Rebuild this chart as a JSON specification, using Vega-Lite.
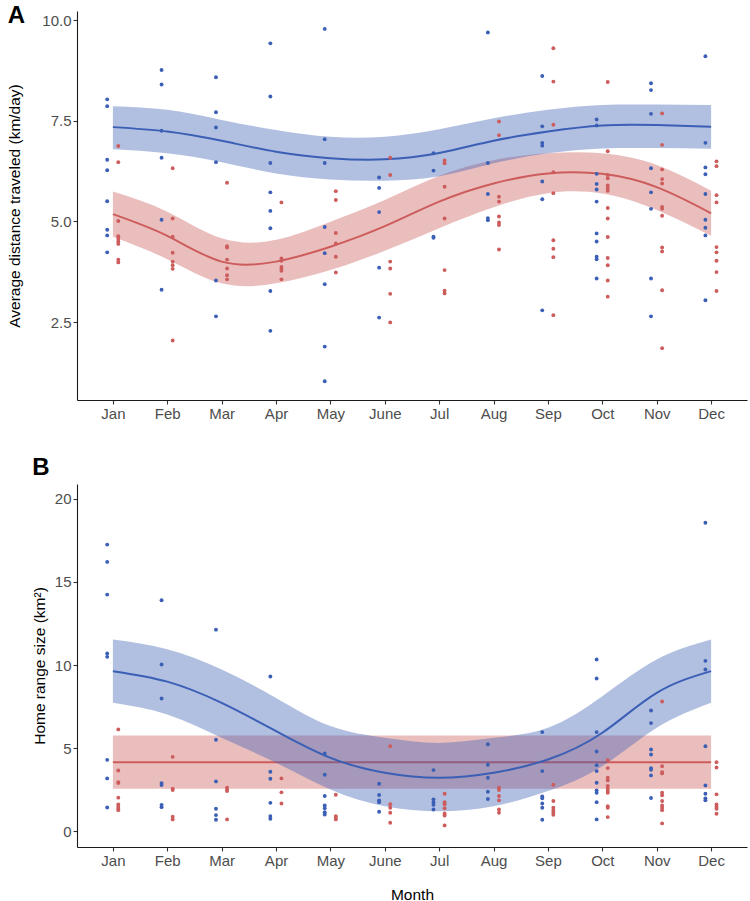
{
  "$schema": "https://vega.github.io/schema/vega-lite/v6.json",
  "background": "white",
  "padding": {"left": 7, "top": 4, "right": 2, "bottom": 0},
  "spacing": 35,
  "config": {
    "view": {"stroke": null},
    "font": "Liberation Sans",
    "axis": {
      "grid": false,
      "domainColor": "#1a1a1a",
      "domainWidth": 1.1,
      "tickColor": "#333333",
      "tickWidth": 1.1,
      "tickSize": 4,
      "labelPadding": 2,
      "labelColor": "#4D4D4D",
      "labelFontSize": 15,
      "labelFont": "Liberation Sans",
      "titleFont": "Liberation Sans",
      "titleFontSize": 15.5,
      "titleFontWeight": "normal",
      "titleColor": "#000000"
    }
  },
  "datasets": {
    "fitA": [
      {"month": 1, "sex": "Male", "fit": 7.34, "lo": 6.79, "hi": 7.86},
      {"month": 2, "sex": "Male", "fit": 7.23, "lo": 6.69, "hi": 7.77},
      {"month": 3, "sex": "Male", "fit": 7.0, "lo": 6.47, "hi": 7.52},
      {"month": 4, "sex": "Male", "fit": 6.73, "lo": 6.19, "hi": 7.27},
      {"month": 5, "sex": "Male", "fit": 6.57, "lo": 6.04, "hi": 7.1},
      {"month": 6, "sex": "Male", "fit": 6.54, "lo": 6.01, "hi": 7.1},
      {"month": 7, "sex": "Male", "fit": 6.7, "lo": 6.12, "hi": 7.29},
      {"month": 8, "sex": "Male", "fit": 7.0, "lo": 6.44, "hi": 7.56},
      {"month": 9, "sex": "Male", "fit": 7.23, "lo": 6.69, "hi": 7.77},
      {"month": 10, "sex": "Male", "fit": 7.38, "lo": 6.81, "hi": 7.89},
      {"month": 11, "sex": "Male", "fit": 7.39, "lo": 6.82, "hi": 7.9},
      {"month": 12, "sex": "Male", "fit": 7.35, "lo": 6.8, "hi": 7.89},
      {"month": 1, "sex": "Female", "fit": 5.18, "lo": 4.62, "hi": 5.74},
      {"month": 2, "sex": "Female", "fit": 4.64, "lo": 4.06, "hi": 5.24},
      {"month": 3, "sex": "Female", "fit": 4.0, "lo": 3.46, "hi": 4.58},
      {"month": 4, "sex": "Female", "fit": 4.0, "lo": 3.46, "hi": 4.54},
      {"month": 5, "sex": "Female", "fit": 4.37, "lo": 3.79, "hi": 4.99},
      {"month": 6, "sex": "Female", "fit": 4.88, "lo": 4.27, "hi": 5.53},
      {"month": 7, "sex": "Female", "fit": 5.49, "lo": 4.83, "hi": 6.13},
      {"month": 8, "sex": "Female", "fit": 5.94, "lo": 5.35, "hi": 6.52},
      {"month": 9, "sex": "Female", "fit": 6.19, "lo": 5.7, "hi": 6.69},
      {"month": 10, "sex": "Female", "fit": 6.18, "lo": 5.69, "hi": 6.69},
      {"month": 11, "sex": "Female", "fit": 5.85, "lo": 5.28, "hi": 6.4},
      {"month": 12, "sex": "Female", "fit": 5.2, "lo": 4.64, "hi": 5.76}
    ],
    "fitB": [
      {"month": 1, "sex": "Male", "fit": 9.63, "lo": 7.72, "hi": 11.53},
      {"month": 2, "sex": "Male", "fit": 9.0, "lo": 7.02, "hi": 10.95},
      {"month": 3, "sex": "Male", "fit": 7.72, "lo": 5.62, "hi": 9.73},
      {"month": 4, "sex": "Male", "fit": 6.02, "lo": 4.11, "hi": 8.02},
      {"month": 5, "sex": "Male", "fit": 4.41, "lo": 2.51, "hi": 6.32},
      {"month": 6, "sex": "Male", "fit": 3.51, "lo": 1.5, "hi": 5.62},
      {"month": 7, "sex": "Male", "fit": 3.21, "lo": 1.2, "hi": 5.31},
      {"month": 8, "sex": "Male", "fit": 3.51, "lo": 1.5, "hi": 5.62},
      {"month": 9, "sex": "Male", "fit": 4.31, "lo": 2.41, "hi": 6.22},
      {"month": 10, "sex": "Male", "fit": 5.92, "lo": 3.91, "hi": 8.12},
      {"month": 11, "sex": "Male", "fit": 8.32, "lo": 6.22, "hi": 10.33},
      {"month": 12, "sex": "Male", "fit": 9.63, "lo": 7.72, "hi": 11.53},
      {"month": 1, "sex": "Female", "fit": 4.15, "lo": 2.55, "hi": 5.76},
      {"month": 2, "sex": "Female", "fit": 4.15, "lo": 2.55, "hi": 5.76},
      {"month": 3, "sex": "Female", "fit": 4.15, "lo": 2.55, "hi": 5.76},
      {"month": 4, "sex": "Female", "fit": 4.15, "lo": 2.55, "hi": 5.76},
      {"month": 5, "sex": "Female", "fit": 4.15, "lo": 2.55, "hi": 5.76},
      {"month": 6, "sex": "Female", "fit": 4.15, "lo": 2.55, "hi": 5.76},
      {"month": 7, "sex": "Female", "fit": 4.15, "lo": 2.55, "hi": 5.76},
      {"month": 8, "sex": "Female", "fit": 4.15, "lo": 2.55, "hi": 5.76},
      {"month": 9, "sex": "Female", "fit": 4.15, "lo": 2.55, "hi": 5.76},
      {"month": 10, "sex": "Female", "fit": 4.15, "lo": 2.55, "hi": 5.76},
      {"month": 11, "sex": "Female", "fit": 4.15, "lo": 2.55, "hi": 5.76},
      {"month": 12, "sex": "Female", "fit": 4.15, "lo": 2.55, "hi": 5.76}
    ],
    "ptsA": [
      {"month": 1, "sex": "Male", "value": 8.03}, {"month": 1, "sex": "Male", "value": 7.86}, {"month": 1, "sex": "Male", "value": 6.53}, {"month": 1, "sex": "Male", "value": 6.27}, {"month": 1, "sex": "Male", "value": 5.5}, {"month": 1, "sex": "Male", "value": 4.79}, {"month": 1, "sex": "Male", "value": 4.65}, {"month": 1, "sex": "Male", "value": 4.23},
      {"month": 2, "sex": "Male", "value": 8.76}, {"month": 2, "sex": "Male", "value": 8.4}, {"month": 2, "sex": "Male", "value": 7.25}, {"month": 2, "sex": "Male", "value": 6.58}, {"month": 2, "sex": "Male", "value": 5.04}, {"month": 2, "sex": "Male", "value": 3.3},
      {"month": 3, "sex": "Male", "value": 8.58}, {"month": 3, "sex": "Male", "value": 7.71}, {"month": 3, "sex": "Male", "value": 7.33}, {"month": 3, "sex": "Male", "value": 6.47}, {"month": 3, "sex": "Male", "value": 3.53}, {"month": 3, "sex": "Male", "value": 2.64},
      {"month": 4, "sex": "Male", "value": 9.42}, {"month": 4, "sex": "Male", "value": 8.1}, {"month": 4, "sex": "Male", "value": 6.45}, {"month": 4, "sex": "Male", "value": 5.72}, {"month": 4, "sex": "Male", "value": 5.26}, {"month": 4, "sex": "Male", "value": 4.83}, {"month": 4, "sex": "Male", "value": 3.27}, {"month": 4, "sex": "Male", "value": 2.28},
      {"month": 5, "sex": "Male", "value": 9.78}, {"month": 5, "sex": "Male", "value": 7.04}, {"month": 5, "sex": "Male", "value": 6.45}, {"month": 5, "sex": "Male", "value": 4.86}, {"month": 5, "sex": "Male", "value": 4.21}, {"month": 5, "sex": "Male", "value": 3.44}, {"month": 5, "sex": "Male", "value": 1.89}, {"month": 5, "sex": "Male", "value": 1.03},
      {"month": 6, "sex": "Male", "value": 6.09}, {"month": 6, "sex": "Male", "value": 5.83}, {"month": 6, "sex": "Male", "value": 5.23}, {"month": 6, "sex": "Male", "value": 3.85}, {"month": 6, "sex": "Male", "value": 2.61},
      {"month": 7, "sex": "Male", "value": 6.69}, {"month": 7, "sex": "Male", "value": 6.26}, {"month": 7, "sex": "Male", "value": 4.62}, {"month": 7, "sex": "Male", "value": 4.59},
      {"month": 8, "sex": "Male", "value": 9.69}, {"month": 8, "sex": "Male", "value": 6.45}, {"month": 8, "sex": "Male", "value": 5.68}, {"month": 8, "sex": "Male", "value": 5.08}, {"month": 8, "sex": "Male", "value": 5.03},
      {"month": 9, "sex": "Male", "value": 8.61}, {"month": 9, "sex": "Male", "value": 7.36}, {"month": 9, "sex": "Male", "value": 6.95}, {"month": 9, "sex": "Male", "value": 6.88}, {"month": 9, "sex": "Male", "value": 5.99}, {"month": 9, "sex": "Male", "value": 5.55}, {"month": 9, "sex": "Male", "value": 2.79},
      {"month": 10, "sex": "Male", "value": 7.53}, {"month": 10, "sex": "Male", "value": 7.38}, {"month": 10, "sex": "Male", "value": 6.18}, {"month": 10, "sex": "Male", "value": 5.93}, {"month": 10, "sex": "Male", "value": 5.79}, {"month": 10, "sex": "Male", "value": 5.49}, {"month": 10, "sex": "Male", "value": 4.7}, {"month": 10, "sex": "Male", "value": 4.5}, {"month": 10, "sex": "Male", "value": 4.12}, {"month": 10, "sex": "Male", "value": 4.06}, {"month": 10, "sex": "Male", "value": 3.58},
      {"month": 11, "sex": "Male", "value": 8.43}, {"month": 11, "sex": "Male", "value": 8.26}, {"month": 11, "sex": "Male", "value": 7.67}, {"month": 11, "sex": "Male", "value": 6.32}, {"month": 11, "sex": "Male", "value": 5.72}, {"month": 11, "sex": "Male", "value": 5.31}, {"month": 11, "sex": "Male", "value": 3.58}, {"month": 11, "sex": "Male", "value": 2.64},
      {"month": 12, "sex": "Male", "value": 9.1}, {"month": 12, "sex": "Male", "value": 6.95}, {"month": 12, "sex": "Male", "value": 6.34}, {"month": 12, "sex": "Male", "value": 6.17}, {"month": 12, "sex": "Male", "value": 5.68}, {"month": 12, "sex": "Male", "value": 5.04}, {"month": 12, "sex": "Male", "value": 4.84}, {"month": 12, "sex": "Male", "value": 4.65}, {"month": 12, "sex": "Male", "value": 3.04},
      {"month": 1, "sex": "Female", "value": 6.87}, {"month": 1, "sex": "Female", "value": 6.47}, {"month": 1, "sex": "Female", "value": 5.01}, {"month": 1, "sex": "Female", "value": 4.63}, {"month": 1, "sex": "Female", "value": 4.57}, {"month": 1, "sex": "Female", "value": 4.5}, {"month": 1, "sex": "Female", "value": 4.44}, {"month": 1, "sex": "Female", "value": 4.05}, {"month": 1, "sex": "Female", "value": 3.98},
      {"month": 2, "sex": "Female", "value": 6.32}, {"month": 2, "sex": "Female", "value": 5.07}, {"month": 2, "sex": "Female", "value": 4.62}, {"month": 2, "sex": "Female", "value": 4.22}, {"month": 2, "sex": "Female", "value": 4.0}, {"month": 2, "sex": "Female", "value": 3.91}, {"month": 2, "sex": "Female", "value": 3.82}, {"month": 2, "sex": "Female", "value": 2.04},
      {"month": 3, "sex": "Female", "value": 5.96}, {"month": 3, "sex": "Female", "value": 4.38}, {"month": 3, "sex": "Female", "value": 4.35}, {"month": 3, "sex": "Female", "value": 4.05}, {"month": 3, "sex": "Female", "value": 3.83}, {"month": 3, "sex": "Female", "value": 3.66}, {"month": 3, "sex": "Female", "value": 3.56},
      {"month": 4, "sex": "Female", "value": 5.47}, {"month": 4, "sex": "Female", "value": 4.08}, {"month": 4, "sex": "Female", "value": 4.02}, {"month": 4, "sex": "Female", "value": 3.87}, {"month": 4, "sex": "Female", "value": 3.82}, {"month": 4, "sex": "Female", "value": 3.77}, {"month": 4, "sex": "Female", "value": 3.56},
      {"month": 5, "sex": "Female", "value": 5.75}, {"month": 5, "sex": "Female", "value": 5.53}, {"month": 5, "sex": "Female", "value": 4.71}, {"month": 5, "sex": "Female", "value": 4.45}, {"month": 5, "sex": "Female", "value": 4.12}, {"month": 5, "sex": "Female", "value": 3.73},
      {"month": 6, "sex": "Female", "value": 6.58}, {"month": 6, "sex": "Female", "value": 6.15}, {"month": 6, "sex": "Female", "value": 4.0}, {"month": 6, "sex": "Female", "value": 3.83}, {"month": 6, "sex": "Female", "value": 3.2}, {"month": 6, "sex": "Female", "value": 2.49},
      {"month": 7, "sex": "Female", "value": 6.51}, {"month": 7, "sex": "Female", "value": 6.44}, {"month": 7, "sex": "Female", "value": 5.86}, {"month": 7, "sex": "Female", "value": 5.07}, {"month": 7, "sex": "Female", "value": 3.79}, {"month": 7, "sex": "Female", "value": 3.28}, {"month": 7, "sex": "Female", "value": 3.21},
      {"month": 8, "sex": "Female", "value": 7.48}, {"month": 8, "sex": "Female", "value": 7.14}, {"month": 8, "sex": "Female", "value": 5.61}, {"month": 8, "sex": "Female", "value": 5.49}, {"month": 8, "sex": "Female", "value": 5.12}, {"month": 8, "sex": "Female", "value": 4.97}, {"month": 8, "sex": "Female", "value": 4.91}, {"month": 8, "sex": "Female", "value": 4.3},
      {"month": 9, "sex": "Female", "value": 9.3}, {"month": 9, "sex": "Female", "value": 8.47}, {"month": 9, "sex": "Female", "value": 7.4}, {"month": 9, "sex": "Female", "value": 6.22}, {"month": 9, "sex": "Female", "value": 5.7}, {"month": 9, "sex": "Female", "value": 4.53}, {"month": 9, "sex": "Female", "value": 4.32}, {"month": 9, "sex": "Female", "value": 4.11}, {"month": 9, "sex": "Female", "value": 2.67},
      {"month": 10, "sex": "Female", "value": 8.46}, {"month": 10, "sex": "Female", "value": 6.74}, {"month": 10, "sex": "Female", "value": 6.15}, {"month": 10, "sex": "Female", "value": 6.07}, {"month": 10, "sex": "Female", "value": 5.89}, {"month": 10, "sex": "Female", "value": 5.82}, {"month": 10, "sex": "Female", "value": 5.76}, {"month": 10, "sex": "Female", "value": 5.33}, {"month": 10, "sex": "Female", "value": 5.07}, {"month": 10, "sex": "Female", "value": 4.61}, {"month": 10, "sex": "Female", "value": 4.09}, {"month": 10, "sex": "Female", "value": 3.91}, {"month": 10, "sex": "Female", "value": 3.53}, {"month": 10, "sex": "Female", "value": 3.13},
      {"month": 11, "sex": "Female", "value": 7.68}, {"month": 11, "sex": "Female", "value": 6.9}, {"month": 11, "sex": "Female", "value": 6.29}, {"month": 11, "sex": "Female", "value": 6.05}, {"month": 11, "sex": "Female", "value": 5.94}, {"month": 11, "sex": "Female", "value": 5.36}, {"month": 11, "sex": "Female", "value": 5.31}, {"month": 11, "sex": "Female", "value": 5.14}, {"month": 11, "sex": "Female", "value": 4.35}, {"month": 11, "sex": "Female", "value": 4.25}, {"month": 11, "sex": "Female", "value": 3.29}, {"month": 11, "sex": "Female", "value": 1.85},
      {"month": 12, "sex": "Female", "value": 6.49}, {"month": 12, "sex": "Female", "value": 6.37}, {"month": 12, "sex": "Female", "value": 5.65}, {"month": 12, "sex": "Female", "value": 5.47}, {"month": 12, "sex": "Female", "value": 4.36}, {"month": 12, "sex": "Female", "value": 4.23}, {"month": 12, "sex": "Female", "value": 4.02}, {"month": 12, "sex": "Female", "value": 3.74}, {"month": 12, "sex": "Female", "value": 3.27}
    ],
    "ptsB": [
      {"month": 1, "sex": "Male", "value": 17.25}, {"month": 1, "sex": "Male", "value": 16.21}, {"month": 1, "sex": "Male", "value": 14.24}, {"month": 1, "sex": "Male", "value": 10.69}, {"month": 1, "sex": "Male", "value": 10.49}, {"month": 1, "sex": "Male", "value": 4.29}, {"month": 1, "sex": "Male", "value": 3.17}, {"month": 1, "sex": "Male", "value": 1.42},
      {"month": 2, "sex": "Male", "value": 13.9}, {"month": 2, "sex": "Male", "value": 10.03}, {"month": 2, "sex": "Male", "value": 7.98}, {"month": 2, "sex": "Male", "value": 2.89}, {"month": 2, "sex": "Male", "value": 2.77}, {"month": 2, "sex": "Male", "value": 1.58}, {"month": 2, "sex": "Male", "value": 1.44},
      {"month": 3, "sex": "Male", "value": 12.13}, {"month": 3, "sex": "Male", "value": 5.5}, {"month": 3, "sex": "Male", "value": 2.99}, {"month": 3, "sex": "Male", "value": 1.34}, {"month": 3, "sex": "Male", "value": 0.96}, {"month": 3, "sex": "Male", "value": 0.68},
      {"month": 4, "sex": "Male", "value": 9.31}, {"month": 4, "sex": "Male", "value": 3.57}, {"month": 4, "sex": "Male", "value": 3.15}, {"month": 4, "sex": "Male", "value": 1.7}, {"month": 4, "sex": "Male", "value": 0.9}, {"month": 4, "sex": "Male", "value": 0.74},
      {"month": 5, "sex": "Male", "value": 4.67}, {"month": 5, "sex": "Male", "value": 3.39}, {"month": 5, "sex": "Male", "value": 2.11}, {"month": 5, "sex": "Male", "value": 1.54}, {"month": 5, "sex": "Male", "value": 1.38}, {"month": 5, "sex": "Male", "value": 1.14}, {"month": 5, "sex": "Male", "value": 1.0},
      {"month": 6, "sex": "Male", "value": 2.85}, {"month": 6, "sex": "Male", "value": 2.17}, {"month": 6, "sex": "Male", "value": 1.85}, {"month": 6, "sex": "Male", "value": 1.74}, {"month": 6, "sex": "Male", "value": 1.16},
      {"month": 7, "sex": "Male", "value": 3.67}, {"month": 7, "sex": "Male", "value": 1.91}, {"month": 7, "sex": "Male", "value": 1.74}, {"month": 7, "sex": "Male", "value": 1.58}, {"month": 7, "sex": "Male", "value": 1.3},
      {"month": 8, "sex": "Male", "value": 5.23}, {"month": 8, "sex": "Male", "value": 3.99}, {"month": 8, "sex": "Male", "value": 3.21}, {"month": 8, "sex": "Male", "value": 2.37}, {"month": 8, "sex": "Male", "value": 1.93},
      {"month": 9, "sex": "Male", "value": 5.96}, {"month": 9, "sex": "Male", "value": 3.61}, {"month": 9, "sex": "Male", "value": 2.09}, {"month": 9, "sex": "Male", "value": 1.97}, {"month": 9, "sex": "Male", "value": 1.66}, {"month": 9, "sex": "Male", "value": 1.4}, {"month": 9, "sex": "Male", "value": 0.68},
      {"month": 10, "sex": "Male", "value": 10.33}, {"month": 10, "sex": "Male", "value": 9.19}, {"month": 10, "sex": "Male", "value": 5.96}, {"month": 10, "sex": "Male", "value": 4.79}, {"month": 10, "sex": "Male", "value": 3.97}, {"month": 10, "sex": "Male", "value": 3.61}, {"month": 10, "sex": "Male", "value": 2.91}, {"month": 10, "sex": "Male", "value": 2.45}, {"month": 10, "sex": "Male", "value": 2.31}, {"month": 10, "sex": "Male", "value": 1.74}, {"month": 10, "sex": "Male", "value": 0.7},
      {"month": 11, "sex": "Male", "value": 7.26}, {"month": 11, "sex": "Male", "value": 6.5}, {"month": 11, "sex": "Male", "value": 4.91}, {"month": 11, "sex": "Male", "value": 4.61}, {"month": 11, "sex": "Male", "value": 3.79}, {"month": 11, "sex": "Male", "value": 3.69}, {"month": 11, "sex": "Male", "value": 3.35}, {"month": 11, "sex": "Male", "value": 1.99},
      {"month": 12, "sex": "Male", "value": 18.57}, {"month": 12, "sex": "Male", "value": 10.25}, {"month": 12, "sex": "Male", "value": 9.73}, {"month": 12, "sex": "Male", "value": 5.11}, {"month": 12, "sex": "Male", "value": 2.75}, {"month": 12, "sex": "Male", "value": 2.25}, {"month": 12, "sex": "Male", "value": 1.97}, {"month": 12, "sex": "Male", "value": 1.85},
      {"month": 1, "sex": "Female", "value": 6.12}, {"month": 1, "sex": "Female", "value": 3.65}, {"month": 1, "sex": "Female", "value": 2.95}, {"month": 1, "sex": "Female", "value": 2.89}, {"month": 1, "sex": "Female", "value": 2.01}, {"month": 1, "sex": "Female", "value": 1.6}, {"month": 1, "sex": "Female", "value": 1.46}, {"month": 1, "sex": "Female", "value": 1.34}, {"month": 1, "sex": "Female", "value": 1.26},
      {"month": 2, "sex": "Female", "value": 4.47}, {"month": 2, "sex": "Female", "value": 2.55}, {"month": 2, "sex": "Female", "value": 2.47}, {"month": 2, "sex": "Female", "value": 0.86}, {"month": 2, "sex": "Female", "value": 0.7},
      {"month": 3, "sex": "Female", "value": 2.61}, {"month": 3, "sex": "Female", "value": 2.51}, {"month": 3, "sex": "Female", "value": 2.41}, {"month": 3, "sex": "Female", "value": 0.7},
      {"month": 4, "sex": "Female", "value": 3.17}, {"month": 4, "sex": "Female", "value": 2.33}, {"month": 4, "sex": "Female", "value": 1.66},
      {"month": 5, "sex": "Female", "value": 2.19}, {"month": 5, "sex": "Female", "value": 0.9}, {"month": 5, "sex": "Female", "value": 0.8}, {"month": 5, "sex": "Female", "value": 0.7},
      {"month": 6, "sex": "Female", "value": 5.11}, {"month": 6, "sex": "Female", "value": 1.62}, {"month": 6, "sex": "Female", "value": 1.4}, {"month": 6, "sex": "Female", "value": 1.1}, {"month": 6, "sex": "Female", "value": 0.5},
      {"month": 7, "sex": "Female", "value": 2.25}, {"month": 7, "sex": "Female", "value": 1.74}, {"month": 7, "sex": "Female", "value": 1.62}, {"month": 7, "sex": "Female", "value": 1.38}, {"month": 7, "sex": "Female", "value": 1.06}, {"month": 7, "sex": "Female", "value": 0.94}, {"month": 7, "sex": "Female", "value": 0.34},
      {"month": 8, "sex": "Female", "value": 2.61}, {"month": 8, "sex": "Female", "value": 2.47}, {"month": 8, "sex": "Female", "value": 2.11}, {"month": 8, "sex": "Female", "value": 1.85}, {"month": 8, "sex": "Female", "value": 1.3}, {"month": 8, "sex": "Female", "value": 1.1},
      {"month": 9, "sex": "Female", "value": 2.79}, {"month": 9, "sex": "Female", "value": 1.81}, {"month": 9, "sex": "Female", "value": 1.4}, {"month": 9, "sex": "Female", "value": 1.24}, {"month": 9, "sex": "Female", "value": 1.1}, {"month": 9, "sex": "Female", "value": 0.98},
      {"month": 10, "sex": "Female", "value": 4.27}, {"month": 10, "sex": "Female", "value": 3.79}, {"month": 10, "sex": "Female", "value": 3.21}, {"month": 10, "sex": "Female", "value": 3.05}, {"month": 10, "sex": "Female", "value": 2.71}, {"month": 10, "sex": "Female", "value": 2.55}, {"month": 10, "sex": "Female", "value": 2.41}, {"month": 10, "sex": "Female", "value": 2.31}, {"month": 10, "sex": "Female", "value": 1.5}, {"month": 10, "sex": "Female", "value": 1.4}, {"month": 10, "sex": "Female", "value": 0.84},
      {"month": 11, "sex": "Female", "value": 7.8}, {"month": 11, "sex": "Female", "value": 3.91}, {"month": 11, "sex": "Female", "value": 3.55}, {"month": 11, "sex": "Female", "value": 3.47}, {"month": 11, "sex": "Female", "value": 2.31}, {"month": 11, "sex": "Female", "value": 2.15}, {"month": 11, "sex": "Female", "value": 1.81}, {"month": 11, "sex": "Female", "value": 1.54}, {"month": 11, "sex": "Female", "value": 1.4}, {"month": 11, "sex": "Female", "value": 1.26}, {"month": 11, "sex": "Female", "value": 0.46},
      {"month": 12, "sex": "Female", "value": 4.15}, {"month": 12, "sex": "Female", "value": 3.83}, {"month": 12, "sex": "Female", "value": 2.21}, {"month": 12, "sex": "Female", "value": 1.6}, {"month": 12, "sex": "Female", "value": 1.46}, {"month": 12, "sex": "Female", "value": 1.34}, {"month": 12, "sex": "Female", "value": 1.04}
    ]
  },
  "vconcat": [
    {
      "width": 670,
      "height": 389,
      "title": {"text": "A", "anchor": "start", "frame": "bounds", "fontSize": 24, "fontWeight": "bold", "font": "Liberation Sans", "color": "#000000", "offset": -17},
      "encoding": {
        "x": {"field": "month", "type": "quantitative", "scale": {"domain": [0.34, 12.66], "nice": false, "zero": false},
          "axis": {"title": null, "values": [1,2,3,4,5,6,7,8,9,10,11,12], "labelExpr": "['Jan','Feb','Mar','Apr','May','June','Jul','Aug','Sep','Oct','Nov','Dec'][datum.value-1]"}},
        "color": {"field": "sex", "type": "nominal", "scale": {"domain": ["Male", "Female"], "range": ["#3B5FB5", "#CD5C5C"]}, "legend": null}
      },
      "layer": [
        {"data": {"name": "fitA"}, "transform": [{"filter": "datum.sex == 'Female'"}],
         "mark": {"type": "area", "opacity": 0.4, "interpolate": "natural"},
         "encoding": {"y": {"field": "lo", "type": "quantitative", "scale": {"domain": [0.563, 10.224], "nice": false, "zero": false},
            "axis": {"title": "Average distance traveled (km/day)", "values": [2.5, 5, 7.5, 10], "format": ".1f", "titlePadding": 19}}, "y2": {"field": "hi"}}},
        {"data": {"name": "fitA"}, "transform": [{"filter": "datum.sex == 'Female'"}],
         "mark": {"type": "line", "strokeWidth": 2, "interpolate": "natural"},
         "encoding": {"y": {"field": "fit", "type": "quantitative"}}},
        {"data": {"name": "fitA"}, "transform": [{"filter": "datum.sex == 'Male'"}],
         "mark": {"type": "area", "opacity": 0.4, "interpolate": "natural"},
         "encoding": {"y": {"field": "lo", "type": "quantitative"}, "y2": {"field": "hi"}}},
        {"data": {"name": "fitA"}, "transform": [{"filter": "datum.sex == 'Male'"}],
         "mark": {"type": "line", "strokeWidth": 2, "interpolate": "natural"},
         "encoding": {"y": {"field": "fit", "type": "quantitative"}}},
        {"data": {"name": "ptsA"}, "transform": [{"filter": "datum.sex == 'Male'"}],
         "mark": {"type": "circle", "size": 15, "opacity": 1, "xOffset": -5.7},
         "encoding": {"y": {"field": "value", "type": "quantitative"}}},
        {"data": {"name": "ptsA"}, "transform": [{"filter": "datum.sex == 'Female'"}],
         "mark": {"type": "circle", "size": 15, "opacity": 1, "xOffset": 5.4},
         "encoding": {"y": {"field": "value", "type": "quantitative"}}}
      ]
    },
    {
      "width": 670,
      "height": 363,
      "title": {"text": "B", "anchor": "start", "frame": "bounds", "fontSize": 24, "fontWeight": "bold", "font": "Liberation Sans", "color": "#000000", "offset": 4},
      "encoding": {
        "x": {"field": "month", "type": "quantitative", "scale": {"domain": [0.34, 12.66], "nice": false, "zero": false},
          "axis": {"title": "Month", "titlePadding": 19, "values": [1,2,3,4,5,6,7,8,9,10,11,12], "labelExpr": "['Jan','Feb','Mar','Apr','May','June','Jul','Aug','Sep','Oct','Nov','Dec'][datum.value-1]"}},
        "color": {"field": "sex", "type": "nominal", "scale": {"domain": ["Male", "Female"], "range": ["#3B5FB5", "#CD5C5C"]}, "legend": null}
      },
      "layer": [
        {"data": {"name": "fitB"}, "transform": [{"filter": "datum.sex == 'Female'"}],
         "mark": {"type": "area", "opacity": 0.4, "interpolate": "natural"},
         "encoding": {"y": {"field": "lo", "type": "quantitative", "scale": {"domain": [-0.96, 20.9], "nice": false, "zero": false},
            "axis": {"title": "Home range size (km²)", "values": [0, 5, 10, 15, 20], "titlePadding": 7}}, "y2": {"field": "hi"}}},
        {"data": {"name": "fitB"}, "transform": [{"filter": "datum.sex == 'Female'"}],
         "mark": {"type": "line", "strokeWidth": 2, "interpolate": "natural"},
         "encoding": {"y": {"field": "fit", "type": "quantitative"}}},
        {"data": {"name": "fitB"}, "transform": [{"filter": "datum.sex == 'Male'"}],
         "mark": {"type": "area", "opacity": 0.4, "interpolate": "natural"},
         "encoding": {"y": {"field": "lo", "type": "quantitative"}, "y2": {"field": "hi"}}},
        {"data": {"name": "fitB"}, "transform": [{"filter": "datum.sex == 'Male'"}],
         "mark": {"type": "line", "strokeWidth": 2, "interpolate": "natural"},
         "encoding": {"y": {"field": "fit", "type": "quantitative"}}},
        {"data": {"name": "ptsB"}, "transform": [{"filter": "datum.sex == 'Male'"}],
         "mark": {"type": "circle", "size": 15, "opacity": 1, "xOffset": -5.7},
         "encoding": {"y": {"field": "value", "type": "quantitative"}}},
        {"data": {"name": "ptsB"}, "transform": [{"filter": "datum.sex == 'Female'"}],
         "mark": {"type": "circle", "size": 15, "opacity": 1, "xOffset": 5.4},
         "encoding": {"y": {"field": "value", "type": "quantitative"}}}
      ]
    }
  ]
}
